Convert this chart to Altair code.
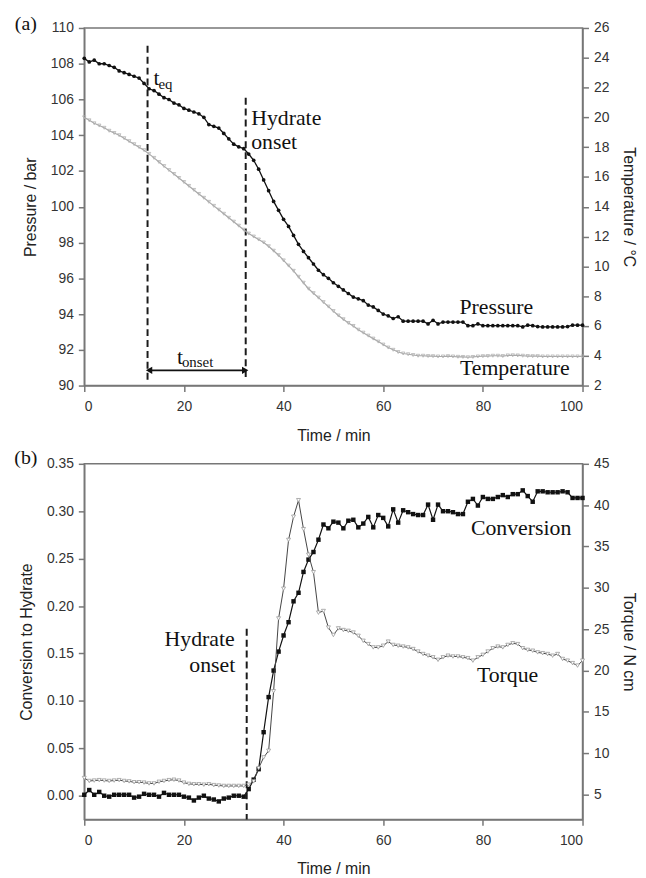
import altair as alt
import pandas as pd

# ---------------- data ----------------
time_min = list(range(0, 101))

pressure_bar = [
    108.3, 108.1, 108.2, 108.0, 108.0, 107.9, 107.8, 107.6, 107.5, 107.4,
    107.3, 107.2, 106.9, 106.6, 106.5, 106.3, 106.1, 106.0, 105.8, 105.7,
    105.5, 105.4, 105.3, 105.2, 105.0, 104.6, 104.5, 104.4, 104.1, 103.8,
    103.5, 103.35, 103.25, 102.95, 102.6, 102.1, 101.5, 100.9, 100.3, 99.8,
    99.3, 98.9, 98.4, 97.9, 97.5, 97.15, 96.8, 96.45, 96.2, 96.0,
    95.75, 95.55, 95.35, 95.15, 94.95, 94.85, 94.75, 94.5, 94.4, 94.2,
    94.0, 93.9, 93.75, 93.85, 93.6, 93.6, 93.6, 93.6, 93.6, 93.45,
    93.65, 93.45, 93.55, 93.55, 93.55, 93.55, 93.55, 93.35, 93.35, 93.45,
    93.35, 93.35, 93.35, 93.35, 93.35, 93.35, 93.35, 93.35, 93.28, 93.38,
    93.35, 93.3, 93.28, 93.28, 93.28, 93.28, 93.28, 93.3, 93.38, 93.38, 93.38,
]

temperature_c = [
    20.0, 19.8, 19.6, 19.45, 19.3, 19.1, 18.95, 18.8, 18.6, 18.4,
    18.2, 18.0, 17.8, 17.55, 17.28, 17.0, 16.73, 16.46, 16.2, 15.93,
    15.66, 15.4, 15.13, 14.86, 14.6, 14.33, 14.06, 13.8, 13.53, 13.26,
    13.0, 12.73, 12.46, 12.2, 12.0, 11.8, 11.6, 11.35, 11.05, 10.75,
    10.4, 10.05, 9.7, 9.3, 8.9, 8.5, 8.2, 7.9, 7.6, 7.3,
    7.0, 6.7, 6.45, 6.2, 6.0, 5.75, 5.55, 5.35, 5.15, 4.95,
    4.75, 4.55, 4.4, 4.25, 4.15, 4.1, 4.05, 4.0, 4.0, 3.98,
    3.97, 3.95, 3.95, 3.97, 3.95, 3.93, 3.92, 3.9, 3.92, 3.95,
    3.97, 3.98, 4.0, 4.0, 3.98, 4.02, 4.03, 4.02, 4.0, 3.98,
    3.97, 3.97, 3.95, 3.95, 3.95, 3.95, 3.95, 3.95, 3.95, 3.95, 3.95,
]

conversion = [
    0.001, 0.006, 0.001, 0.004, 0.000, -0.001, 0.001, 0.001, 0.001, 0.001,
    -0.002, -0.001, 0.002, 0.001, 0.001, -0.001, 0.003, 0.001, 0.001, 0.001,
    -0.001, -0.002, -0.005, -0.002, 0.000, -0.003, -0.004, -0.006, -0.003, -0.002,
    0.000, 0.000, -0.001, 0.007, 0.017, 0.028, 0.067, 0.104, 0.132, 0.152,
    0.169, 0.183, 0.205, 0.214, 0.236, 0.249, 0.257, 0.270, 0.286, 0.282,
    0.289, 0.288, 0.282, 0.290, 0.291, 0.283, 0.287, 0.294, 0.283, 0.296,
    0.293, 0.284, 0.302, 0.288, 0.301, 0.299, 0.297, 0.296, 0.296, 0.307,
    0.291, 0.307, 0.300, 0.300, 0.299, 0.297, 0.297, 0.310, 0.313, 0.306,
    0.315, 0.313, 0.313, 0.315, 0.317, 0.315, 0.318, 0.318, 0.322, 0.316,
    0.310, 0.321, 0.321, 0.320, 0.320, 0.320, 0.321, 0.320, 0.314, 0.314, 0.314,
]

torque_ncm = [
    7.0, 6.65, 6.7, 6.75, 6.7, 6.65, 6.7, 6.75, 6.65, 6.6,
    6.5, 6.5, 6.45, 6.35, 6.35, 6.55, 6.65, 6.75, 6.8, 6.7,
    6.45, 6.3, 6.25, 6.25, 6.2, 6.25, 6.15, 6.1, 6.05, 6.05,
    6.05, 6.05, 6.05, 6.2, 6.6, 8.2, 9.5, 10.3, 17.5, 26.3,
    29.9, 35.8, 38.6, 40.6, 37.1, 34.0, 31.9, 27.0, 27.2, 25.2,
    24.3, 25.1, 24.9, 24.8, 24.6, 24.2, 23.6, 23.2, 22.8, 22.8,
    23.0, 23.5, 23.1, 23.0, 22.9, 22.8, 22.6, 22.3, 22.0, 21.8,
    21.6, 21.3, 21.6, 21.8, 21.7, 21.7, 21.6, 21.5, 21.2, 21.6,
    21.9, 22.3, 22.7, 22.9, 22.8, 23.1, 23.3, 23.2, 22.7, 22.5,
    22.4, 22.2, 22.1, 22.0, 21.8, 22.0, 21.4, 21.2, 20.9, 20.6, 21.2,
]

x_ticks = [0, 20, 40, 60, 80, 100]
pressure_ticks = list(range(90, 111, 2))
temperature_ticks = list(range(2, 27, 2))
conversion_ticks = [0.0, 0.05, 0.10, 0.15, 0.20, 0.25, 0.30, 0.35]
torque_ticks = [5, 10, 15, 20, 25, 30, 35, 40, 45]

# annotations panel (a): dashed lines, arrow, labels
a_vlines_t = [12.7, 32.4]
a_vlines_top = [109.0, 106.1]
a_vlines_bottom = [90.3, 90.3]
a_big_labels = ["t", "Hydrate", "onset", "t", "Pressure", "Temperature"]
a_big_t = [13.9, 33.5, 33.5, 18.6, 75.3, 75.4]
a_big_y = [106.8, 104.57, 103.22, 91.22, 93.99, 90.57]
a_sub_labels = ["eq", "onset"]
a_sub_t = [14.9, 19.6]
a_sub_y = [106.6, 91.03]
arrow_t = [13.0, 32.3]
arrow_y = 90.85

# annotations panel (b)
b_vline_t = [32.6]
b_vline_top = [0.176]
b_vline_bottom = [-0.025]
b_right_labels = ["Hydrate", "onset"]
b_right_t = [30.2, 30.3]
b_right_y = [0.158, 0.130]
b_left_labels = ["Conversion", "Torque"]
b_left_t = [77.6, 78.8]
b_left_y = [0.275, 0.120]

SANS = "Liberation Sans"
SERIF = "Liberation Serif"

df = pd.DataFrame({"t": time_min, "P": pressure_bar, "T": temperature_c,
                   "C": conversion, "Q": torque_ncm})

XTITLE = "Time / min"


def xenc(field="t:Q"):
    return alt.X(field, title=XTITLE,
                 scale=alt.Scale(domain=[0, 100], nice=False, zero=False),
                 axis=alt.Axis(values=x_ticks, labelPadding=8, titlePadding=14))


# ---------------- panel (a) ----------------
PT = "Pressure / bar"
p_scale = alt.Scale(domain=[90, 110], nice=False, zero=False)
p_axis = alt.Axis(values=pressure_ticks, titlePadding=12, orient="left")


def penc(field):
    return alt.Y(field, title=PT, scale=p_scale, axis=p_axis)


base = alt.Chart(df)
p_line = base.mark_line(color="#111", strokeWidth=1.3).encode(x=xenc(), y=penc("P:Q"))
p_pts = base.mark_point(shape="circle", filled=True, size=14, color="#111", opacity=1).encode(
    x=xenc(), y=penc("P:Q"))

vl_a = alt.Chart(pd.DataFrame({"t": a_vlines_t, "y1": a_vlines_top, "y2": a_vlines_bottom})).mark_rule(
    color="#1a1a1a", strokeWidth=2, strokeDash=[7, 4]).encode(x=xenc(), y=penc("y1:Q"), y2="y2:Q")

arrow_df = pd.DataFrame({"t": arrow_t, "y": [arrow_y, arrow_y], "shape": ["triangle-left", "triangle-right"]})
arrow_line = alt.Chart(pd.DataFrame({"t": [arrow_t[0]], "t2": [arrow_t[1]], "y": [arrow_y]})).mark_rule(
    color="#111", strokeWidth=2).encode(x=xenc(), x2="t2:Q", y=penc("y:Q"))
arrow_heads = alt.Chart(arrow_df).mark_point(filled=True, size=55, color="#111", opacity=1).encode(
    x=xenc(), y=penc("y:Q"), shape=alt.Shape("shape:N", scale=None))

big_a = alt.Chart(pd.DataFrame({"t": a_big_t, "y": a_big_y, "label": a_big_labels})).mark_text(
    font=SERIF, fontSize=22, align="left", baseline="alphabetic", color="#111").encode(
    x=xenc(), y=penc("y:Q"), text="label:N")
sub_a = alt.Chart(pd.DataFrame({"t": a_sub_t, "y": a_sub_y, "label": a_sub_labels})).mark_text(
    font=SERIF, fontSize=15, align="left", baseline="alphabetic", color="#111").encode(
    x=xenc(), y=penc("y:Q"), text="label:N")
tag_a = alt.Chart(pd.DataFrame({"label": ["(a)"]})).mark_text(
    font=SERIF, fontSize=20, align="center", baseline="middle", color="#111").encode(
    x=alt.value(-59), y=alt.value(-4), text="label:N")

left_a = alt.layer(p_line, p_pts, vl_a, arrow_line, arrow_heads, big_a, sub_a, tag_a)

TT = "Temperature / °C"
t_enc = alt.Y("T:Q", title=TT, scale=alt.Scale(domain=[2, 26], nice=False, zero=False),
              axis=alt.Axis(values=temperature_ticks, orient="right", titlePadding=12))
t_line = base.mark_line(color="#a8a8a8", strokeWidth=1.2).encode(x=xenc(), y=t_enc)
t_pts = base.mark_point(shape="triangle-down", filled=False, size=12, color="#b0b0b0",
                        strokeWidth=0.8, opacity=1).encode(x=xenc(), y=t_enc)
right_a = alt.layer(t_line, t_pts)

panel_a = alt.layer(left_a, right_a).resolve_scale(y="independent").properties(width=503, height=361)

# ---------------- panel (b) ----------------
CT = "Conversion to Hydrate"
c_scale = alt.Scale(domain=[-0.025, 0.35], nice=False, zero=False)
c_axis = alt.Axis(values=conversion_ticks, format=".2f", titlePadding=12, orient="left")


def cenc(field):
    return alt.Y(field, title=CT, scale=c_scale, axis=c_axis)


c_line = base.mark_line(color="#111", strokeWidth=1.2).encode(x=xenc(), y=cenc("C:Q"))
c_pts = base.mark_point(shape="square", filled=True, size=20, color="#111", opacity=1).encode(
    x=xenc(), y=cenc("C:Q"))
vl_b = alt.Chart(pd.DataFrame({"t": b_vline_t, "y1": b_vline_top, "y2": b_vline_bottom})).mark_rule(
    color="#1a1a1a", strokeWidth=2, strokeDash=[7, 4]).encode(x=xenc(), y=cenc("y1:Q"), y2="y2:Q")
rt_b = alt.Chart(pd.DataFrame({"t": b_right_t, "y": b_right_y, "label": b_right_labels})).mark_text(
    font=SERIF, fontSize=22, align="right", baseline="alphabetic", color="#111").encode(
    x=xenc(), y=cenc("y:Q"), text="label:N")
lt_b = alt.Chart(pd.DataFrame({"t": b_left_t, "y": b_left_y, "label": b_left_labels})).mark_text(
    font=SERIF, fontSize=22, align="left", baseline="alphabetic", color="#111").encode(
    x=xenc(), y=cenc("y:Q"), text="label:N")
tag_b = alt.Chart(pd.DataFrame({"label": ["(b)"]})).mark_text(
    font=SERIF, fontSize=20, align="center", baseline="middle", color="#111").encode(
    x=alt.value(-59), y=alt.value(-6), text="label:N")
left_b = alt.layer(c_line, c_pts, vl_b, rt_b, lt_b, tag_b)

QT = "Torque / N cm"
q_enc = alt.Y("Q:Q", title=QT, scale=alt.Scale(domain=[2, 45], nice=False, zero=False),
              axis=alt.Axis(values=torque_ticks, orient="right", titlePadding=12))
q_line = base.mark_line(color="#444", strokeWidth=1.0).encode(x=xenc(), y=q_enc)
q_pts = base.mark_point(shape="triangle-down", filled=True, size=16, fill="white", stroke="#999",
                        strokeWidth=0.8, opacity=1).encode(x=xenc(), y=q_enc)
right_b = alt.layer(q_line, q_pts)

panel_b = alt.layer(left_b, right_b).resolve_scale(y="independent").properties(width=503, height=359)

chart = alt.vconcat(panel_a, panel_b, spacing=3).properties(
    padding={"left": 5, "top": 1, "right": 0, "bottom": 0}
).configure_axis(
    labelFont=SANS, titleFont=SANS, labelFontSize=14, titleFontSize=16, titleFontWeight="normal",
    labelColor="#333", titleColor="#222", domainColor="#777", tickColor="#777",
    domainWidth=1.5, tickWidth=1.5, tickSize=6, labelPadding=5, grid=False,
).configure_view(stroke="#777", strokeWidth=1.5)

chart.save("out.html", embed_options={"renderer": "svg", "actions": False})
